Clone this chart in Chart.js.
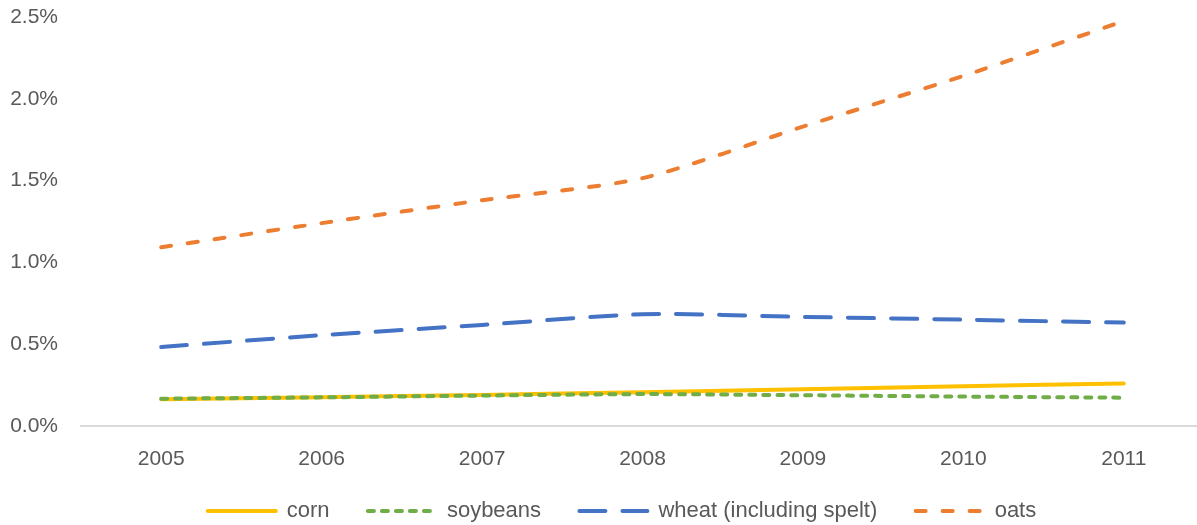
<!DOCTYPE html>
<html>
<head>
<meta charset="utf-8">
<script src="https://cdn.jsdelivr.net/npm/chart.js@4"></script>
<style>
  html, body { margin: 0; padding: 0; background: #fff; overflow: hidden; }
  #wrap { position: relative; width: 1206px; height: 525px; }
</style>
</head>
<body>
<div id="wrap"><canvas id="myChart"></canvas></div>
<script>
"use strict";
// values, in percent
const years = ["2005", "2006", "2007", "2008", "2009", "2010", "2011"];
const corn = [0.163, 0.176, 0.19, 0.207, 0.225, 0.243, 0.26];
const soybeans = [0.167, 0.175, 0.186, 0.195, 0.188, 0.18, 0.173];
const wheat = [0.483, 0.555, 0.618, 0.683, 0.667, 0.65, 0.632];
const oats = [1.093, 1.24, 1.38, 1.515, 1.83, 2.14, 2.475];
const yTicks = [0, 0.5, 1.0, 1.5, 2.0, 2.5];

const grey = "#595959";
const font = { family: "'Liberation Sans', Arial, sans-serif", size: 21 };

const line = function (label, data, color, dash, order) {
  return {
    label,
    data,
    order,
    borderColor: color,
    backgroundColor: color,
    borderWidth: 4,
    borderDash: dash,
    borderCapStyle: "round",
    pointRadius: 0,
    pointHoverRadius: 0,
    tension: 0.25,
    fill: false,
  };
};

// legend samples keep the dash of their line; trailing spaces widen the gaps
const legendLabels = function (chart) {
  const items = Chart.defaults.plugins.legend.labels.generateLabels(chart);
  return items.map((item) => {
    const ds = chart.data.datasets[item.datasetIndex];
    item.lineDash = ds.borderDash;
    item.lineWidth = 4;
    item.lineCap = "round";
    item.strokeStyle = ds.borderColor;
    if (item.datasetIndex < chart.data.datasets.length - 1) item.text += "   ";
    return item;
  });
};

// Excel centres the legend a bit right of the page centre
const legendShift = {
  id: "legendShift",
  afterLayout(chart) {
    chart.legend.left = 38;
  },
};

const ctx = document.getElementById("myChart").getContext("2d");
const chart = new Chart(ctx, {
  type: "line",
  data: {
    labels: years,
    datasets: [
      line("corn", corn, "#FFC000", [], 4),
      line("soybeans", soybeans, "#70AD47", [6, 8], 3),
      line("wheat (including spelt)", wheat, "#4472C4", [26, 17], 2),
      line("oats", oats, "#ED7D31", [10, 17], 1),
    ],
  },
  plugins: [legendShift],
  options: {
    responsive: true,
    maintainAspectRatio: false,
    animation: false,
    layout: { padding: { top: 17, left: 0, right: 0, bottom: 0 } },
    plugins: {
      tooltip: { enabled: false },
      legend: {
        position: "bottom",
        labels: {
          usePointStyle: true,
          pointStyle: "line",
          pointStyleWidth: 68,
          boxHeight: 4,
          padding: 20,
          color: grey,
          font: { family: font.family, size: 22 },
          generateLabels: legendLabels,
          sort: (a, b) => a.datasetIndex - b.datasetIndex,
        },
      },
    },
    scales: {
      x: {
        offset: true,
        afterFit: (scale) => {
          scale.height = 54;
        },
        grid: { display: false, drawTicks: false },
        border: { display: true, color: "#D9D9D9", width: 2 },
        ticks: { color: grey, font, padding: 21, maxRotation: 0 },
      },
      y: {
        min: 0,
        max: 2.5,
        afterBuildTicks: (scale) => {
          scale.ticks = yTicks.map((v) => ({ value: v }));
        },
        afterFit: (scale) => {
          scale.width = 81;
          scale.paddingTop = 0;
          scale.paddingBottom = 0;
        },
        grid: { display: false, drawTicks: false },
        border: { display: false },
        ticks: {
          color: grey,
          font,
          padding: 23,
          callback: (v) => v.toFixed(1) + "%",
        },
      },
    },
  },
});

// keep the legend short so the plot keeps its height
const legendFit = chart.legend.fit;
chart.legend.fit = function () {
  legendFit.call(this);
  this.height = 45;
};
chart.update();
</script>
</body>
</html>
